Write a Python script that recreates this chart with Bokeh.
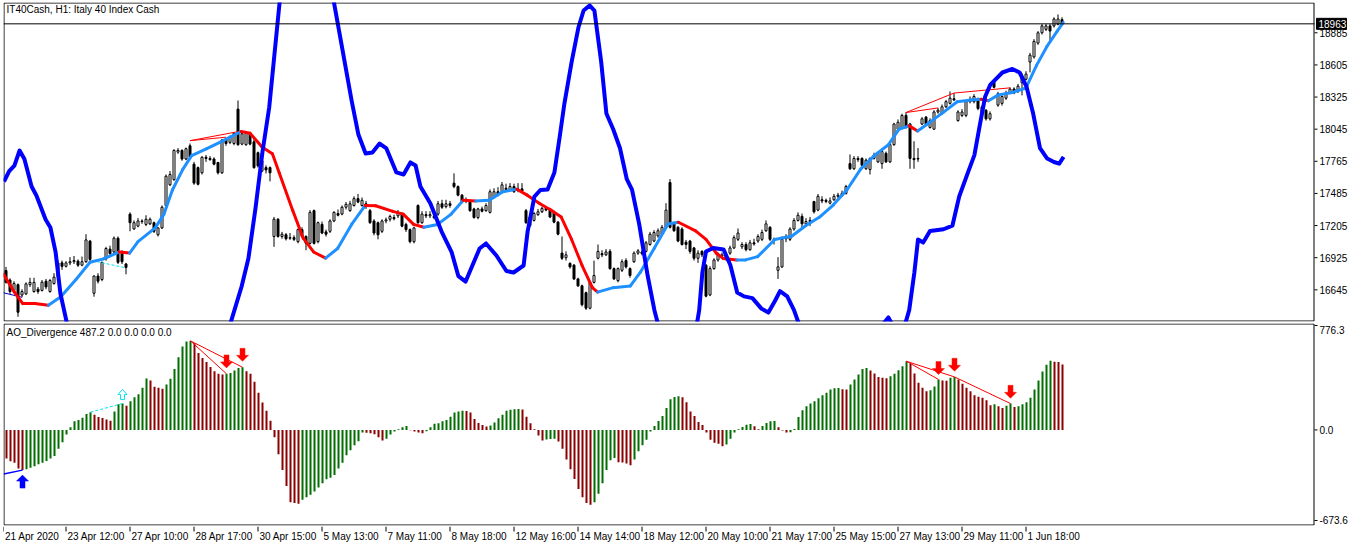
import numpy as np
from bokeh.plotting import figure
from bokeh.models import Range1d, Label
from bokeh.layouts import column
from bokeh.embed import file_html
from bokeh.resources import INLINE
from bokeh.core.properties import value

# ---------------- data ----------------
opens = [
16813,16730,16640,16690,16600,16610,16690,16630,16650,16640,
16720,16630,16700,16760,16880,16850,16880,16890,16895,16860,
16890,17070,16615,16765,16735,16915,17000,16975,17095,16960,
16870,17305,17175,17200,17245,17215,17220,17230,17125,17185,
17380,17560,17605,17845,17860,17785,17900,17740,17710,17665,
17800,17790,17785,17755,17665,17950,17930,17920,18220,17915,
17910,18005,17935,17840,17680,17710,17710,17110,17260,17110,
17125,17095,17100,17065,17170,17110,17050,17335,17065,17215,
17150,17155,17245,17310,17305,17365,17335,17380,17440,17380,
17395,17335,17245,17230,17155,17245,17260,17275,17290,17305,
17215,17170,17065,17380,17230,17300,17290,17285,17305,17395,
17370,17395,17575,17545,17470,17430,17410,17350,17275,17350,
17335,17320,17455,17500,17500,17530,17515,17545,17510,17525,
17335,17205,17250,17300,17325,17355,17340,17320,17235,16965,
16925,16875,16860,16740,16680,16620,16485,16710,16920,16960,
16950,16980,16830,16725,16815,16900,16830,16890,16965,16975,
16980,17040,17070,17115,17130,17190,17580,17220,17190,17175,
17060,17070,17010,16920,16980,16860,16600,16830,16905,16940,
16945,16965,17010,17085,17020,17040,16995,17055,17070,17085,
17160,17190,17085,16815,16845,17090,17085,17175,17250,17285,
17220,17240,17415,17340,17430,17425,17400,17430,17460,17465,
17485,17745,17700,17790,17790,17700,17693,17790,17760,17745,
17835,17760,17910,18045,18060,18165,18090,17790,17790,18090,
18150,18060,18045,18195,18180,18240,18270,18310,18120,18165,
18165,18285,18285,18310,18240,18210,18135,18460,18255,18270,
18315,18360,18395,18375,18450,18480,18630,18675,18795,18885,
18915,18945,18945,18960,19000]
highs = [
16845,16745,16720,16700,16650,16710,16750,16750,16670,16730,
16740,16740,16790,16900,16900,16895,16930,16940,16910,16935,
17130,17080,16770,16790,16890,17020,17030,17110,17110,16990,
16880,17320,17250,17270,17260,17295,17275,17240,17190,17380,
17650,17680,17870,17880,17870,17885,17920,17760,17720,17810,
17820,17810,17800,17760,17960,17970,17990,18020,18295,18030,
18020,18015,17960,17850,17790,17730,17720,17280,17270,17150,
17140,17140,17120,17180,17190,17120,17340,17345,17240,17240,
17170,17260,17330,17345,17380,17410,17420,17460,17480,17450,
17420,17350,17260,17240,17260,17275,17300,17300,17340,17320,
17230,17180,17195,17390,17330,17330,17330,17310,17420,17430,
17430,17420,17660,17555,17480,17450,17420,17360,17360,17370,
17400,17520,17530,17540,17585,17570,17575,17570,17575,17575,
17350,17290,17325,17350,17370,17375,17360,17335,17245,17110,
16980,16885,16870,16750,16690,16630,16720,16900,17040,16990,
17000,17000,16840,16840,16910,16920,16840,16980,17000,16990,
17070,17150,17165,17180,17210,17400,17610,17240,17200,17190,
17080,17080,17020,16990,16990,16870,16850,16920,16970,16970,
16960,17030,17120,17180,17060,17060,17080,17090,17130,17170,
17250,17200,17100,16930,17110,17130,17190,17270,17320,17310,
17270,17280,17420,17480,17460,17440,17450,17480,17490,17510,
17560,17825,17810,17810,17800,17790,17800,17840,17850,17870,
17850,17930,18100,18130,18180,18194,18100,17940,17880,18150,
18160,18140,18210,18230,18260,18300,18374,18360,18210,18220,
18300,18330,18350,18320,18250,18220,18200,18475,18370,18340,
18380,18410,18410,18440,18530,18550,18710,18830,18900,18960,
18960,18960,19020,19045,19020]
lows = [
16700,16610,16620,16410,16580,16600,16670,16620,16610,16630,
16650,16620,16690,16750,16820,16840,16860,16870,16845,16850,
16880,16895,16585,16700,16720,16900,16950,16960,16870,16870,
16780,17155,17170,17190,17220,17200,17210,17140,17110,17175,
17370,17550,17595,17830,17770,17775,17790,17560,17555,17650,
17760,17770,17730,17650,17655,17900,17915,17905,17900,17905,
17900,17905,17700,17710,17670,17660,17590,17020,17100,17090,
17075,17080,17070,17050,17100,16990,17040,17040,17050,17130,
17110,17140,17235,17285,17295,17345,17325,17370,17400,17370,
17350,17220,17120,17085,17140,17225,17240,17250,17270,17190,
17150,17050,17050,17220,17220,17270,17270,17260,17290,17350,
17355,17360,17530,17460,17400,17400,17325,17265,17260,17320,
17325,17310,17440,17460,17490,17505,17505,17490,17495,17495,
17220,17195,17240,17290,17315,17330,17270,17225,17120,16905,
16900,16830,16730,16670,16500,16470,16475,16700,16910,16930,
16940,16820,16730,16710,16800,16830,16750,16880,16950,16945,
16970,17030,17060,17100,17120,17180,17180,17150,17060,17030,
17000,16960,16900,16880,16930,16580,16590,16820,16890,16920,
16900,16950,17000,17070,17000,16980,16985,17030,17055,17070,
17150,17070,17040,16740,16835,17060,17070,17160,17240,17170,
17200,17200,17310,17330,17400,17400,17390,17420,17445,17455,
17475,17690,17690,17760,17720,17690,17650,17780,17750,17700,
17750,17750,17900,18030,18050,18050,17700,17700,17760,18080,
18080,18050,18040,18180,18170,18230,18260,18290,18110,18150,
18150,18270,18270,18210,18170,18120,18120,18400,18240,18250,
18300,18350,18350,18360,18340,18470,18540,18660,18780,18870,
18900,18810,18930,18950,18950]
closes = [
16711,16630,16700,16450,16630,16697,16710,16710,16630,16712,
16670,16726,16755,16880,16850,16880,16890,16900,16860,16890,
17080,16910,16765,16720,16885,17005,16960,17095,16885,16890,
16840,17230,17230,17245,17240,17260,17260,17155,17185,17365,
17635,17650,17860,17860,17785,17875,17800,17575,17565,17800,
17790,17780,17740,17665,17950,17920,17980,18010,17910,18005,
18010,17915,17710,17725,17770,17690,17665,17260,17110,17130,
17090,17100,17085,17170,17110,17050,17320,17050,17230,17140,
17130,17245,17320,17295,17365,17390,17395,17440,17410,17425,
17370,17230,17140,17125,17245,17255,17285,17265,17320,17200,
17170,17065,17185,17230,17305,17290,17300,17275,17395,17365,
17395,17380,17545,17470,17410,17420,17335,17275,17350,17330,
17380,17500,17500,17470,17560,17520,17545,17500,17525,17505,
17230,17280,17310,17325,17355,17340,17280,17235,17130,16920,
16950,16845,16740,16680,16515,16485,16710,16770,16980,16950,
16975,16830,16740,16830,16890,16845,16770,16965,16985,16960,
17055,17130,17145,17160,17190,17340,17190,17160,17070,17040,
17040,16980,16920,16965,16950,16590,16830,16905,16950,16950,
16920,17010,17100,17140,17040,16995,17055,17045,17110,17145,
17220,17085,17075,16845,17085,17110,17175,17250,17295,17220,
17240,17250,17325,17460,17420,17415,17420,17460,17470,17485,
17545,17700,17790,17780,17730,17775,17790,17820,17835,17850,
17760,17910,18090,18105,18165,18060,17790,17780,17785,18135,
18090,18120,18195,18210,18240,18285,18315,18300,18195,18195,
18285,18300,18330,18225,18180,18135,18180,18410,18355,18330,
18360,18395,18360,18420,18510,18525,18690,18810,18885,18945,
18945,18900,19005,19005,18963]

ao_values = [
-213,-233,-245,-287,-299,-292,-282,-270,-255,-245,
-232,-213,-194,-140,-91,-34,20,64,73,91,
118,132,113,96,88,78,69,137,191,196,
179,213,243,265,314,382,368,321,314,306,
338,380,453,541,620,657,662,644,571,534,
505,468,436,417,412,417,424,441,461,466,
436,417,358,277,203,142,69,-54,-181,-299,
-417,-537,-544,-549,-519,-500,-483,-458,-429,-397,
-367,-355,-336,-287,-245,-189,-152,-115,-85,-20,
-22,-25,-32,-54,-78,-66,-34,-12,5,20,
29,-2,-12,-20,-24,-10,20,45,49,64,
73,98,130,137,143,141,130,81,51,37,
25,32,56,86,113,142,150,153,155,152,
98,49,5,-42,-78,-71,-68,-66,-86,-140,
-220,-292,-365,-439,-500,-544,-556,-537,-475,-397,
-299,-225,-208,-240,-242,-250,-262,-220,-159,-115,
-73,-12,29,66,103,162,228,245,250,243,
206,137,103,59,37,-20,-73,-96,-103,-122,
-108,-66,-20,5,22,39,44,27,5,29,
51,64,66,20,-5,-20,-18,7,96,147,
176,196,213,235,257,277,301,309,311,303,
300,338,375,412,453,461,441,419,394,387,
385,399,417,443,473,510,492,419,350,314,
287,294,323,375,368,366,387,394,375,343,
314,287,257,247,240,220,184,191,176,162,
179,196,171,176,191,206,240,301,368,434,
485,515,507,505,487.2]

# moving average line (vertices: bar index, price)
ma_bar = [-0.6, 2.0, 4.2, 7.2, 10.6, 13.7, 17.5, 21.0, 24.4, 28.3, 30.9, 33.0, 37.3, 39.5,
          41.6, 44.2, 46.4, 50.2, 53.7, 56.3, 58.8, 61.0, 64.0, 66.6, 68.3, 71.7, 74.3, 76.9,
          79.9, 82.9, 86.4, 89.8, 92.4, 96.7, 99.3, 101.9, 104.5, 107.9, 111.3, 114.3, 117.4,
          120.8, 124.2, 127.7, 130.3, 133.5, 136.3, 138.8, 141.4, 144.0, 146.6, 147.9, 151.8,
          156.1, 158.6, 162.1, 165.5, 168.1, 172.4, 175.0, 177.6, 179.3, 182.7, 184.9, 187.9,
          192.2, 196.5, 199.9, 203.4, 206.8, 210.3, 213.7, 217.2, 220.6, 223.2, 225.8, 227.9,
          230.9, 234.4, 237.8, 241.3, 243.8, 245.6, 248.1, 251.6, 255.0, 257.6, 260.2, 262.8, 264.3]
ma_val = [16780, 16630, 16525, 16525, 16510, 16585, 16735, 16885, 16915, 16975, 16965, 17065,
          17185, 17305, 17515, 17695, 17815, 17875, 17935, 17980, 18025, 18010, 17890, 17830,
          17665, 17335, 17095, 16975, 16921, 17005, 17215, 17380, 17378, 17329, 17305, 17215,
          17191, 17215, 17305, 17425, 17419, 17425, 17500, 17521, 17470, 17395, 17339, 17279,
          17084, 16859, 16664, 16625, 16664, 16679, 16799, 17009, 17219, 17234, 17159, 17084,
          16964, 16919, 16904, 16906, 16934, 17084, 17114, 17204, 17279, 17384, 17519, 17699,
          17819, 17909, 18044, 18074, 18029, 18104, 18194, 18284, 18299, 18305, 18293, 18344,
          18365, 18404, 18599, 18764, 18899, 18974]

# thick blue oscillator line drawn on the price scale (vertices: bar index, price)
osc_bar = [-0.5, 0.8, 2.1, 3.4, 4.6, 6.4, 7.6, 9.9, 11.1, 12.4, 13.6, 15.1, 23.0, 36.0, 49.0,
           56.3, 58.9, 60.6, 62.4, 64.1, 65.8, 68.4, 74.9, 81.9, 86.4, 88.1, 89.9, 91.6, 93.4,
           95.1, 97.6, 99.4, 101.1, 102.4, 103.6, 106.1, 108.9, 111.4, 113.1, 114.9, 116.6,
           118.4, 120.0, 122.6, 125.1, 126.9, 129.4, 130.4, 132.1, 133.6, 135.4, 137.1, 138.4,
           139.6, 141.4, 143.1, 144.4, 145.9, 147.1, 148.8, 150.1, 151.8, 153.5, 155.2, 156.5,
           158.3, 160.4, 162.1, 162.9, 167.9, 172.5, 173.3, 174.1, 175.0, 176.8, 179.4, 181.1,
           182.8, 184.5, 186.6, 188.8, 190.6, 192.3, 193.5, 195.3, 197.0, 198.1, 206.1, 214.9,
           220.6, 222.4, 224.9, 225.8, 227.1, 228.0, 229.3, 231.0, 234.4, 236.6, 238.3, 240.5,
           242.1, 243.5, 244.8, 246.1, 247.4, 249.1, 251.6, 253.4, 255.1, 256.8, 258.5, 260.3,
           262.0, 263.3, 264.4]
osc_val = [17589, 17680, 17728, 17859, 17785, 17545, 17467, 17258, 17188, 16974, 16613, 16374,
           15400, 14600, 15400, 16374, 16674, 16918, 17362, 17842, 18234, 19150, 20400, 19167,
           18295, 17998, 17833, 17842, 17920, 17877, 17668, 17650, 17755, 17729, 17546, 17398,
           17153, 16974, 16764, 16717, 16857, 17005, 17049, 16944, 16809, 16796, 16857, 17153,
           17458, 17515, 17519, 17667, 17972, 18268, 18630, 18931, 19079, 19123, 19079, 18630,
           18182, 18044, 17879, 17609, 17519, 17218, 16770, 16468, 16360, 16029, 16300, 16468,
           16798, 16979, 17009, 16996, 16859, 16622, 16588, 16573, 16483, 16447, 16552, 16633,
           16588, 16468, 16360, 16029, 16160, 16404, 16290, 16360, 16468, 16798, 17083, 17057,
           17158, 17173, 17204, 17458, 17669, 17819, 18089, 18330, 18434, 18479, 18539, 18570,
           18539, 18419, 18179, 17879, 17789, 17759, 17744, 17803]

# divergence lines on price (bar0, price0, bar1, price1)
pdiv_b0 = [46, 46, 225, 225, 237]
pdiv_p0 = [17945, 17945, 18190, 18190, 18360]
pdiv_b1 = [59, 55, 233, 237, 251]
pdiv_p1 = [18030, 17975, 18230, 18360, 18405]
# divergence lines on AO
adiv_b0 = [46, 46, 225, 225, 237]
adiv_v0 = [662, 662, 510, 510, 394]
adiv_b1 = [55, 59, 233, 237, 251]
adiv_v1 = [417, 466, 375, 394, 196]
# bullish helper lines
bull_price_b = [-0.7, 4]
bull_price_p = [16620, 16580]
bull_ao_b = [-0.7, 4]
bull_ao_v = [-328, -299]
hidden_price_b = [21.5, 29.5]
hidden_price_p = [16900, 16840]
hidden_ao_b = [21, 29]
hidden_ao_v = [132, 196]
# arrows (bar index, tip value)
sell_arrow_bar = [55, 59, 233, 237, 251]
sell_arrow_tip = [461, 510, 412, 436, 235]
buy_arrow_bar = [4]
buy_arrow_tip = [-336]
hidden_arrow_bar = [29]
hidden_arrow_tip = [301]

price_ticks = [16645, 16925, 17205, 17485, 17765, 18045, 18325, 18605, 18885]
ao_ticks = [776.3, 0.0, -673.6]
last_price = 18963
ao_title = "AO_Divergence 487.2 0.0 0.0 0.0 0.0"
chart_title = "IT40Cash, H1:  Italy 40 Index Cash"

time_bar = [-0.625, 15, 31, 47, 63, 79, 95, 111, 127, 143, 159, 175, 191, 207, 223, 239, 255]
time_labels = ["21 Apr 2020", "23 Apr 12:00", "27 Apr 10:00", "28 Apr 17:00", "30 Apr 15:00",
               "5 May 13:00", "7 May 11:00", "8 May 18:00", "12 May 16:00", "14 May 14:00",
               "18 May 12:00", "20 May 10:00", "21 May 17:00", "25 May 15:00", "27 May 13:00",
               "29 May 11:00", "1 Jun 18:00"]

for arr in (opens, highs, lows, closes, ao_values):
    assert len(arr) == 265, len(arr)
assert len(ma_bar) == len(ma_val)
assert len(osc_bar) == len(osc_val)

# ---------------- layout constants ----------------
FONT = "Liberation Sans"
FS = "10px"
W = 1362
BL = 3                      # left border (px)
SCALE_W = 48                # price-scale column (px), inside the frame
PX_PER_BAR = 4.0
PXB = 1.0 / PX_PER_BAR      # bars per pixel
X0 = -0.625
XE = X0 + (W - BL - SCALE_W) / PX_PER_BAR   # right edge of the chart box
XR = Range1d(X0, X0 + (W - BL) / PX_PER_BAR)

TOP_H = 322
top_y0, top_y1 = 16369, 19149
LOW_H = 204
low_y0, low_y1 = -710.8, 791.2
STRIP_H = 20


def base_fig(height, y_range, mt, mb):
    p = figure(width=W, height=height, x_range=XR, y_range=y_range,
               output_backend="svg", toolbar_location=None, title=None,
               x_axis_location=None, y_axis_location=None,
               min_border_left=BL, min_border_right=0,
               min_border_top=mt, min_border_bottom=mb)
    p.xgrid.visible = False
    p.ygrid.visible = False
    p.background_fill_color = "white"
    p.border_fill_color = "white"
    p.outline_line_color = None
    return p


def chart_box(p, y0, y1, ppy):
    yt, yb = y1 - 0.5 * ppy, y0 + 0.5 * ppy
    xl, xr_ = X0 + 0.5 * PXB, XE - 0.5 * PXB
    p.segment([xl, xl, xl, xr_], [yb, yt, yb, yb], [xr_, xr_, xl, xr_], [yb, yt, yt, yt],
              line_color="black", line_width=1)


def value_scale(p, tick_vals, label_vals, label_texts):
    n = len(tick_vals)
    p.segment([XE] * n, tick_vals, [XE + 3 * PXB] * n, tick_vals, line_color="black", line_width=1)
    p.text(x=[XE + 5 * PXB] * n, y=label_vals, text=label_texts, text_align="left",
           text_baseline="middle", text_font=value(FONT), text_font_size=value(FS),
           text_color="black")


# ---------------- price panel ----------------
top = base_fig(TOP_H, Range1d(top_y0, top_y1), 2, 1)
ppy = (top_y1 - top_y0) / (TOP_H - 3)      # price per pixel
chart_box(top, top_y0, top_y1, ppy)

idx = np.arange(len(closes))
o = np.array(opens, float); c = np.array(closes, float)
h = np.array(highs, float); l = np.array(lows, float)
up = c >= o
top.segment(idx, l, idx, h, line_color="black", line_width=1)
top.vbar(x=idx[up], width=0.5, top=c[up], bottom=o[up], fill_color="white",
         line_color="black", line_width=1)
top.vbar(x=idx[~up], width=0.5, top=o[~up], bottom=c[~up], fill_color="black",
         line_color="black", line_width=1)

top.segment(pdiv_b0, pdiv_p0, pdiv_b1, pdiv_p1, line_color="#FF0000", line_width=1)
top.line(bull_price_b, bull_price_p, line_color="#0000CD", line_width=1)
top.line(hidden_price_b, hidden_price_p, line_color="#00E5EE", line_width=1, line_dash="3 2")

ma_xs = [[ma_bar[i], ma_bar[i + 1]] for i in range(len(ma_bar) - 1)]
ma_ys = [[ma_val[i], ma_val[i + 1]] for i in range(len(ma_val) - 1)]
ma_cols = ["#FF0000" if ma_val[i + 1] <= ma_val[i] else "#1E90FF" for i in range(len(ma_val) - 1)]
top.multi_line(xs=ma_xs, ys=ma_ys, line_color=ma_cols, line_width=3, line_cap="round")

top.line(osc_bar, osc_val, line_color="#0000FF", line_width=4, line_join="round")

# last-price line across the chart box
top.segment([X0], [last_price], [XE], [last_price], line_color="black", line_width=1)

value_scale(top, price_ticks, price_ticks, [str(t) for t in price_ticks])
# last-price marker box
top.quad(left=[XE + 2 * PXB], right=[XE + 32 * PXB], top=[last_price + 5.5 * ppy],
         bottom=[last_price - 5.5 * ppy], fill_color="black", line_color="black")
top.text(x=[XE + 4 * PXB], y=[last_price], text=[str(last_price)], text_align="left",
         text_baseline="middle", text_font=value(FONT), text_font_size=value(FS),
         text_color="white")

top.add_layout(Label(x=X0 + 3 * PXB, y=top_y1 - 7 * ppy, text=chart_title,
                     text_font=FONT, text_font_size=FS, text_color="black",
                     text_baseline="middle", text_align="left"))

# ---------------- AO panel ----------------
low = base_fig(LOW_H, Range1d(low_y0, low_y1), 1, 1)
low_ppy = (low_y1 - low_y0) / (LOW_H - 2)
chart_box(low, low_y0, low_y1, low_ppy)
ao_label_pos = [ao_ticks[0] - 4 * low_ppy, ao_ticks[1], ao_ticks[2]]
value_scale(low, ao_ticks, ao_label_pos, ["%.1f" % t for t in ao_ticks])

ao = np.array(ao_values, float)
ao_cols = ["#8B0000" if (i == 0 or ao[i] <= ao[i - 1]) else "#006E00" for i in range(len(ao))]
SH = 0.125  # pixel alignment of 2px histogram bars
low.vbar(x=idx + SH, width=0.5, top=np.maximum(ao, 0), bottom=np.minimum(ao, 0),
         fill_color=ao_cols, line_color=None)

low.segment(np.array(adiv_b0) + SH, adiv_v0, np.array(adiv_b1) + SH, adiv_v1,
            line_color="#FF0000", line_width=1)
low.line(np.array(bull_ao_b) + SH, bull_ao_v, line_color="#0000FF", line_width=1.5)
low.line(np.array(hidden_ao_b) + SH, hidden_ao_v, line_color="#00E5EE", line_width=1, line_dash="3 2")


def arrow_shape(bx, tip, direction, hw, hh, sw, tot):
    # outline given in pixels, converted to data units; direction +1 = body above tip (down arrow)
    pts = [(0, 0), (-hw, hh), (-sw, hh), (-sw, tot), (sw, tot), (sw, hh), (hw, hh)]
    xs = [bx + SH + px * PXB for px, py in pts]
    ys = [tip + direction * py * low_ppy for px, py in pts]
    return xs, ys


sx, sy = zip(*[arrow_shape(b, t, 1, 6, 6, 2.5, 13) for b, t in zip(sell_arrow_bar, sell_arrow_tip)])
low.patches(list(sx), list(sy), fill_color="#FF0000", line_color="#FF2000", line_width=0.5)
bx_, by_ = zip(*[arrow_shape(b, t, -1, 6, 6, 2.5, 13) for b, t in zip(buy_arrow_bar, buy_arrow_tip)])
low.patches(list(bx_), list(by_), fill_color="#0000FF", line_color="#0000FF", line_width=0.5)
hx, hy = zip(*[arrow_shape(b, t, -1, 4.5, 5, 2, 10) for b, t in zip(hidden_arrow_bar, hidden_arrow_tip)])
low.patches(list(hx), list(hy), fill_color=None, line_color="#00E5EE", line_width=1)

low.add_layout(Label(x=X0 + 3 * PXB, y=low_y1 - 9 * low_ppy, text=ao_title,
                     text_font=FONT, text_font_size=FS, text_color="black",
                     text_baseline="middle", text_align="left"))

# ---------------- time scale strip ----------------
strip = base_fig(STRIP_H, Range1d(0, STRIP_H), 0, 0)
strip.segment(time_bar, [STRIP_H] * len(time_bar), time_bar, [STRIP_H - 5] * len(time_bar),
              line_color="black", line_width=1)
strip.text(x=time_bar, y=[STRIP_H / 2] * len(time_bar), text=time_labels, x_offset=1.5,
           text_align="left", text_baseline="middle", text_font=value(FONT),
           text_font_size=value(FS), text_color="black")

layout = column(top, low, strip, spacing=0)
open("out.html", "w").write(file_html(layout, INLINE))
